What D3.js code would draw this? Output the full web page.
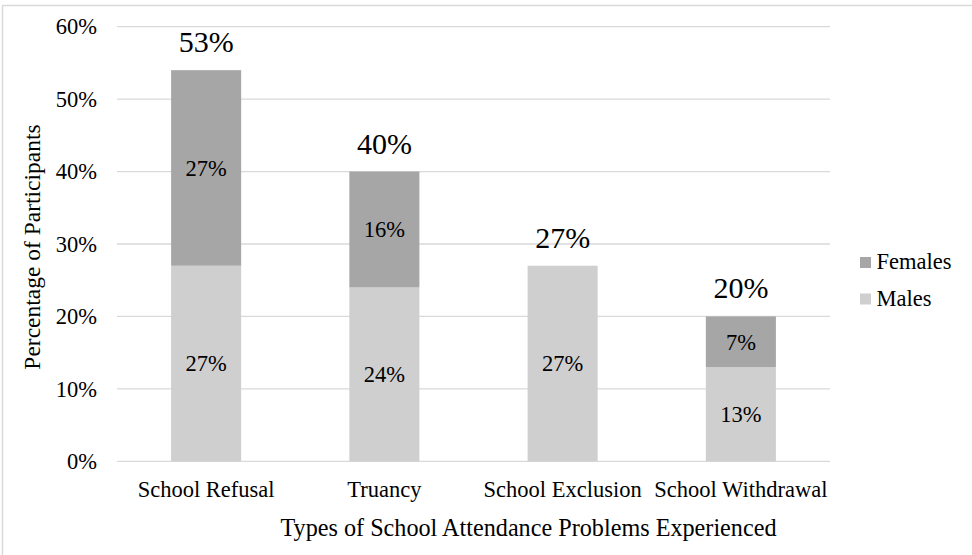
<!DOCTYPE html>
<html>
<head>
<meta charset="utf-8">
<script src="https://cdn.jsdelivr.net/npm/d3@7"></script>
<style>
  html, body { margin: 0; padding: 0; background: #fff; }
  svg { display: block; font-family: "Liberation Serif", "Times New Roman", serif; }
</style>
</head>
<body>
<svg id="chart" width="972" height="555"></svg>
<script>
const categories = ["School Refusal", "Truancy", "School Exclusion", "School Withdrawal"];
const males = [27, 24, 27, 13];
const females = [27, 16, 0, 7];
const totalLabels = ["53%", "40%", "27%", "20%"];
const yTicks = [0, 10, 20, 30, 40, 50, 60];
const seriesNames = ["Males", "Females"];
const colors = { Males: "#d0cfd0", Females: "#a6a6a6" };

const svg = d3.select("#chart");
const W = 972, H = 555;
const plot = { left: 117, right: 830, top: 26.7, bottom: 461.3 };

// outer frame (only top/left visible)
svg.append("rect").attr("x", 2.5).attr("y", 5.5).attr("width", W + 10).attr("height", H + 10)
  .attr("fill", "none").attr("stroke", "#d9d9d9").attr("stroke-width", 1.5);

const x = d3.scaleBand().domain(categories).range([plot.left, plot.right])
  .paddingInner(0.607).paddingOuter(0.3035);
const y = d3.scaleLinear().domain([0, 60]).range([plot.bottom, plot.top]);

// gridlines
svg.append("g").selectAll("line").data(yTicks).join("line")
  .attr("x1", plot.left).attr("x2", plot.right)
  .attr("y1", d => y(d)).attr("y2", d => y(d))
  .attr("stroke", "#d9d9d9").attr("stroke-width", 1.3);

// y axis labels
const yAxis = d3.axisLeft(y).tickValues(yTicks).tickFormat(d => d + "%").tickSize(0).tickPadding(0);
const gy = svg.append("g").attr("transform", `translate(97,0)`).call(yAxis);
gy.select(".domain").remove();
gy.selectAll("text").attr("font-size", "22.5px").attr("fill", "#000")
  .attr("font-family", "Liberation Serif, Times New Roman, serif");

// stacked data
const rows = categories.map((c, i) => ({ cat: c, Males: males[i], Females: females[i] }));
const stack = d3.stack().keys(seriesNames)(rows);

const layers = svg.append("g").selectAll("g").data(stack).join("g")
  .attr("fill", d => colors[d.key]);
layers.selectAll("rect").data(d => d.filter(p => p[1] - p[0] > 0)).join("rect")
  .attr("x", d => x(d.data.cat)).attr("width", x.bandwidth())
  .attr("y", d => y(d[1])).attr("height", d => y(d[0]) - y(d[1]));

// segment labels
stack.forEach(layer => {
  svg.append("g").selectAll("text").data(layer.filter(p => p[1] - p[0] > 0)).join("text")
    .attr("x", d => x(d.data.cat) + x.bandwidth() / 2)
    .attr("y", d => (y(d[0]) + y(d[1])) / 2)
    .attr("dy", "0.35em")
    .attr("text-anchor", "middle").attr("font-size", "22.5px").attr("fill", "#000")
    .text(d => Math.round(d[1] - d[0]) + "%");
});

// total labels
svg.append("g").selectAll("text").data(rows).join("text")
  .attr("x", d => x(d.cat) + x.bandwidth() / 2)
  .attr("y", (d, i) => y(d.Males + d.Females) - 18)
  .attr("text-anchor", "middle").attr("font-size", "30px").attr("fill", "#000")
  .text((d, i) => totalLabels[i]);

// x axis labels
const xAxis = d3.axisBottom(x).tickSize(0).tickPadding(0);
const gx = svg.append("g").attr("transform", `translate(0,${plot.bottom})`).call(xAxis);
gx.select(".domain").remove();
gx.selectAll("text").attr("font-size", "22.5px").attr("fill", "#000")
  .attr("font-family", "Liberation Serif, Times New Roman, serif")
  .attr("dy", null).attr("y", 35.5);

// axis titles
svg.append("text").attr("x", 528.5).attr("y", 536).attr("text-anchor", "middle")
  .attr("font-size", "24.2px").attr("fill", "#000")
  .text("Types of School Attendance Problems Experienced");
svg.append("text").attr("transform", "translate(40,247) rotate(-90)").attr("text-anchor", "middle")
  .attr("font-size", "23.5px").attr("fill", "#000")
  .text("Percentage of Participants");

// legend
const legendItems = ["Females", "Males"];
const lg = svg.append("g").selectAll("g").data(legendItems).join("g")
  .attr("transform", (d, i) => `translate(860,${257 + i * 36.5})`);
lg.append("rect").attr("width", 11).attr("height", 11).attr("fill", d => colors[d]);
lg.append("text").attr("x", 16.5).attr("y", 12).attr("font-size", "22.5px").attr("fill", "#000").text(d => d);
</script>
</body>
</html>
